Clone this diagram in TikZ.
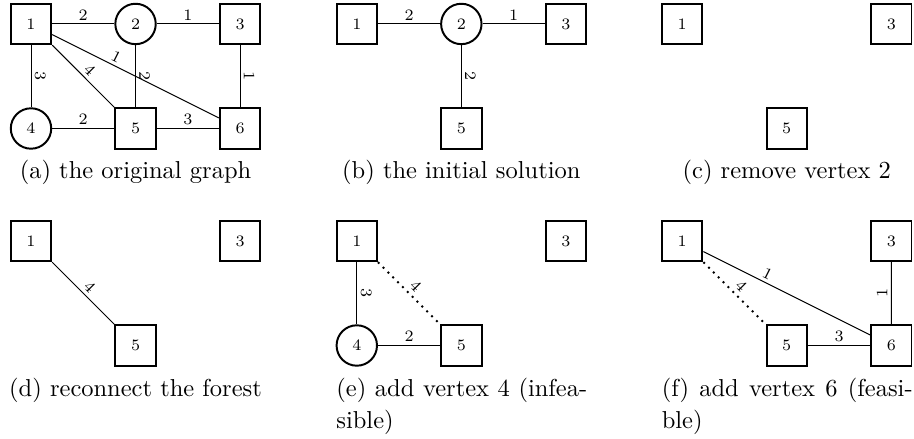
\documentclass[tikz,border=0pt]{standalone}
\usetikzlibrary{positioning}

\begin{document}
\begin{tikzpicture}[
    node distance=15mm and 15mm, on grid,
    vsq/.style={rectangle, draw, thick, minimum size=5.8mm, inner sep=0pt,
        font=\fontsize{6.5}{7.5}\selectfont},
    vci/.style={circle, draw, thick, minimum size=5.8mm, inner sep=0pt,
        font=\fontsize{6.5}{7.5}\selectfont},
    wt/.style={font=\fontsize{6.5}{7.5}\selectfont, inner sep=1.4pt, sloped, above},
    tried/.style={thick, dotted},
    capt/.style={anchor=base, inner sep=0pt, font=\fontsize{10}{12.7}\selectfont},
    captwide/.style={anchor=north west, text width=3.6cm, align=justify,
        inner sep=0pt, font=\fontsize{10}{12.7}\selectfont},
]
\useasboundingbox (-0.445,0.344) rectangle (12.671,-5.955);

% (a) the original graph
\node[vsq] (a1) at (0,0) {1};
\node[vci, right=of a1] (a2) {2};
\node[vsq, right=of a2] (a3) {3};
\node[vci, below=of a1] (a4) {4};
\node[vsq, right=of a4] (a5) {5};
\node[vsq, right=of a5] (a6) {6};
\draw (a1) -- node[wt] {2} (a2);
\draw (a2) -- node[wt] {1} (a3);
\draw (a1) -- node[wt] {3} (a4);
\draw (a1) -- node[wt] {4} (a5);
\draw (a1) -- node[wt, pos=.36] {1} (a6);
\draw (a2) -- node[wt] {2} (a5);
\draw (a3) -- node[wt] {1} (a6);
\draw (a4) -- node[wt] {2} (a5);
\draw (a5) -- node[wt] {3} (a6);
\node[capt] (capa) at (1.5,-2.224) {(a) the original graph};

% (b) the initial solution
\node[vsq] (b1) at (4.675,0) {1};
\node[vci, right=of b1] (b2) {2};
\node[vsq, right=of b2] (b3) {3};
\node[vsq, below=of b2] (b5) {5};
\draw (b1) -- node[wt] {2} (b2);
\draw (b2) -- node[wt] {1} (b3);
\draw (b2) -- node[wt] {2} (b5);
\node[capt] (capb) at (6.175,-2.224) {(b) the initial solution};

% (c) remove vertex 2
\node[vsq] (c1) at (9.345,0) {1};
\node[vsq, right=30mm of c1] (c3) {3};
\node[vsq, below right=of c1] (c5) {5};
\node[capt] (capc) at (10.845,-2.224) {(c) remove vertex 2};

% (d) reconnect the forest
\node[vsq] (d1) at (0,-3.114) {1};
\node[vsq, right=30mm of d1] (d3) {3};
\node[vsq, below right=of d1] (d5) {5};
\draw (d1) -- node[wt] {4} (d5);
\node[capt] (capd) at (1.5,-5.345) {(d) reconnect the forest};

% (e) add vertex 4 (infeasible)
\node[vsq] (e1) at (4.675,-3.114) {1};
\node[vsq, right=30mm of e1] (e3) {3};
\node[vci, below=of e1] (e4) {4};
\node[vsq, right=of e4] (e5) {5};
\draw (e1) -- node[wt] {3} (e4);
\draw (e4) -- node[wt] {2} (e5);
\draw[tried] (e1) -- node[wt] {4} (e5);
\node[captwide] (cape) at (4.375,-5.081) {(e) add vertex 4 (infeasible)};

% (f) add vertex 6 (feasible)
\node[vsq] (f1) at (9.345,-3.114) {1};
\node[vsq, right=30mm of f1] (f3) {3};
\node[vsq, below right=of f1] (f5) {5};
\node[vsq, right=of f5] (f6) {6};
\draw (f1) -- node[wt, pos=.36] {1} (f6);
\draw (f3) -- node[wt] {1} (f6);
\draw (f5) -- node[wt] {3} (f6);
\draw[tried] (f1) -- node[wt] {4} (f5);
\node[captwide] (capf) at (9.045,-5.081) {(f) add vertex 6 (feasible)};

\end{tikzpicture}
\end{document}
